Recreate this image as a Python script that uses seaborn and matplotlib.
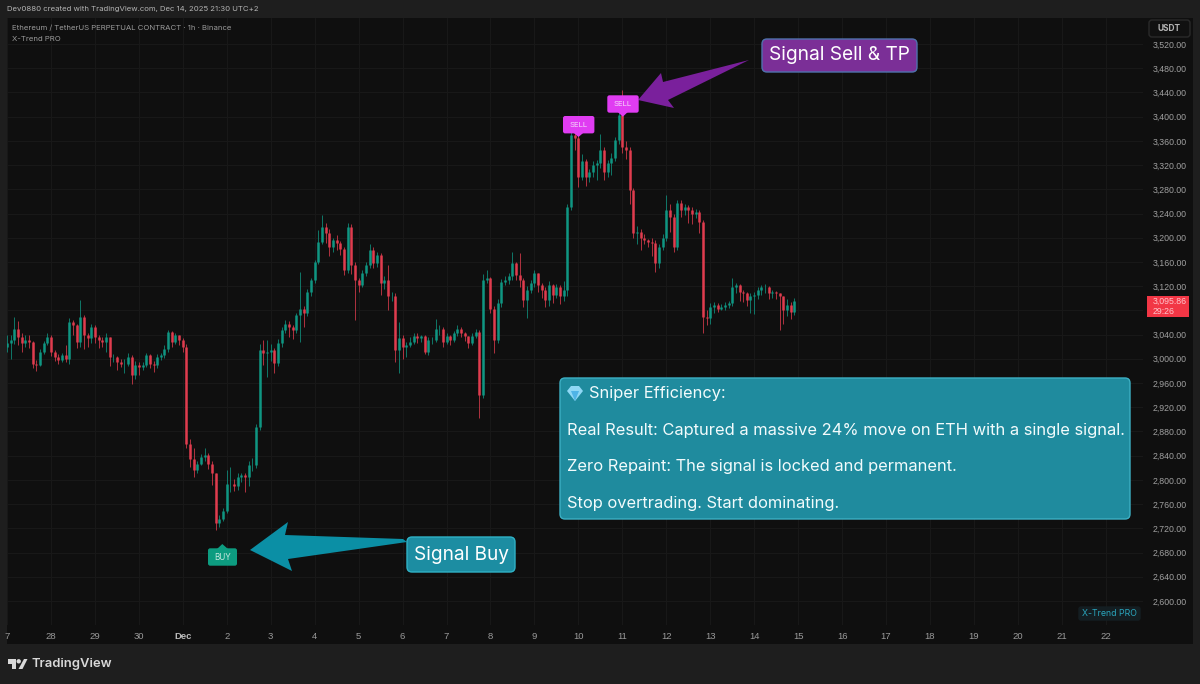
import numpy as np
import pandas as pd
import matplotlib
matplotlib.use("Agg")
import matplotlib.pyplot as plt
from matplotlib.patches import FancyBboxPatch, Polygon, Circle
import seaborn as sns

# ETHUSDT, one bar every two hours from Nov 27
closes = [
    3026, 3031, 3050, 3036, 3026, 3031, 3028, 2992, 2990, 3012, 3026, 3036,
    3012, 3003, 2998, 3006, 3000, 3061, 3056, 3028, 3069, 3039, 3034, 3053,
    3036, 3031, 3028, 3036, 3003, 3003, 2995, 2992, 2992, 3003, 2973, 2990,
    2987, 2990, 3006, 2992, 2990, 3003, 3006, 3017, 3045, 3028, 3039, 3031,
    3020, 2860, 2835, 2816, 2827, 2838, 2841, 2827, 2811, 2728, 2736, 2748,
    2794, 2794, 2790, 2805, 2808, 2805, 2825, 2825, 2888, 3015, 3009, 3012,
    3015, 2993, 3026, 3048, 3058, 3053, 3047, 3072, 3083, 3075, 3111, 3130,
    3160, 3193, 3218, 3207, 3185, 3196, 3191, 3182, 3147, 3218, 3155, 3130,
    3122, 3141, 3155, 3180, 3158, 3171, 3125, 3130, 3103, 3103, 3015, 3034,
    3020, 3023, 3028, 3037, 3034, 3037, 3012, 3031, 3031, 3050, 3050, 3028,
    3037, 3031, 3042, 3050, 3042, 3037, 3026, 3037, 3045, 2940, 3130, 3133,
    3083, 3031, 3092, 3127, 3130, 3136, 3158, 3138, 3130, 3097, 3114, 3125,
    3141, 3122, 3114, 3097, 3122, 3105, 3119, 3103, 3114, 3251, 3370, 3364,
    3301, 3326, 3301, 3309, 3320, 3323, 3345, 3309, 3323, 3331, 3361, 3403,
    3350, 3345, 3279, 3207, 3210, 3199, 3196, 3193, 3191, 3158, 3185, 3199,
    3246, 3235, 3185, 3257, 3246, 3251, 3246, 3240, 3243, 3226, 3069, 3067,
    3086, 3089, 3083, 3086, 3089, 3092, 3119, 3122, 3111, 3108, 3097, 3103,
    3105, 3114, 3119, 3119, 3108, 3111, 3108, 3103, 3081, 3089, 3078, 3096,
]
highs = [
    3040, 3040, 3069, 3062, 3042, 3040, 3040, 3030, 2998, 3016, 3030, 3042,
    3040, 3014, 3008, 3010, 3022, 3068, 3064, 3058, 3097, 3072, 3042, 3058,
    3056, 3040, 3036, 3042, 3036, 3008, 3005, 3000, 3000, 3010, 3006, 2996,
    2994, 2994, 3010, 3008, 2996, 3008, 3010, 3022, 3048, 3046, 3043, 3040,
    3034, 3024, 2868, 2852, 2832, 2842, 2852, 2845, 2832, 2812, 2742, 2754,
    2816, 2822, 2802, 2812, 2812, 2812, 2832, 2836, 2892, 3024, 3031, 3031,
    3024, 3018, 3032, 3052, 3064, 3062, 3056, 3076, 3144, 3088, 3116, 3134,
    3164, 3212, 3237, 3225, 3215, 3200, 3205, 3194, 3184, 3224, 3222, 3160,
    3134, 3146, 3160, 3190, 3184, 3176, 3175, 3136, 3155, 3110, 3108, 3060,
    3040, 3028, 3036, 3042, 3042, 3040, 3040, 3036, 3036, 3066, 3056, 3052,
    3042, 3040, 3046, 3056, 3052, 3045, 3038, 3042, 3050, 3048, 3140, 3147,
    3135, 3088, 3098, 3132, 3136, 3142, 3177, 3160, 3174, 3134, 3120, 3130,
    3146, 3142, 3126, 3118, 3128, 3124, 3124, 3122, 3128, 3256, 3382, 3383,
    3368, 3338, 3330, 3314, 3326, 3328, 3372, 3350, 3328, 3340, 3366, 3410,
    3444, 3360, 3350, 3282, 3220, 3214, 3206, 3198, 3200, 3196, 3190, 3206,
    3271, 3256, 3240, 3262, 3262, 3256, 3254, 3250, 3248, 3246, 3230, 3080,
    3092, 3094, 3092, 3090, 3094, 3096, 3133, 3126, 3124, 3114, 3110, 3108,
    3110, 3118, 3122, 3124, 3120, 3114, 3112, 3108, 3104, 3098, 3094, 3100,
]
lows = [
    3012, 3000, 3024, 3022, 3012, 3020, 3018, 2985, 2980, 2988, 3008, 3022,
    3005, 2996, 2992, 2994, 2994, 2992, 3040, 3018, 3020, 3016, 3020, 3026,
    3026, 3018, 3020, 3012, 2988, 2994, 2982, 2986, 2976, 2988, 2959, 2966,
    2974, 2982, 2986, 2984, 2978, 2984, 2998, 3002, 3012, 3020, 3024, 3022,
    3012, 2852, 2822, 2805, 2812, 2824, 2832, 2818, 2792, 2717, 2722, 2732,
    2745, 2780, 2782, 2784, 2796, 2780, 2790, 2815, 2820, 2882, 2990, 2970,
    2996, 2976, 2988, 3020, 3042, 3036, 3032, 3042, 3028, 3053, 3070, 3104,
    3126, 3156, 3190, 3192, 3170, 3176, 3180, 3172, 3138, 3142, 3140, 3064,
    3110, 3118, 3136, 3150, 3150, 3152, 3106, 3116, 3080, 3095, 2995, 2976,
    3000, 3003, 3020, 3024, 3026, 3028, 3008, 3006, 3024, 3028, 3040, 3020,
    3024, 3022, 3028, 3038, 3036, 3030, 3018, 3022, 3034, 2902, 2936, 3125,
    3076, 3009, 3026, 3086, 3122, 3124, 3130, 3130, 3118, 3086, 3067, 3108,
    3118, 3110, 3100, 3086, 3088, 3092, 3100, 3090, 3095, 3104, 3245, 3345,
    3284, 3296, 3286, 3292, 3300, 3296, 3315, 3296, 3300, 3303, 3326, 3355,
    3340, 3330, 3256, 3200, 3190, 3180, 3190, 3184, 3170, 3144, 3150, 3180,
    3194, 3210, 3176, 3180, 3234, 3238, 3225, 3222, 3232, 3208, 3042, 3056,
    3058, 3076, 3078, 3080, 3080, 3084, 3088, 3108, 3096, 3094, 3088, 3075,
    3074, 3098, 3106, 3108, 3098, 3100, 3098, 3048, 3058, 3070, 3066, 3072,
]
first_open = 3020

# x labels, one per day from Nov 27
day_labels = ["7", "28", "29", "30", "Dec", "2", "3", "4", "5", "6", "7", "8", "9", "10", "11",
              "12", "13", "14", "15", "16", "17", "18", "19", "20", "21", "22"]
price_ticks = list(range(2600, 3521, 40))
hidden_tick = 3080  # sits under the red price tag

BG = "#1e1e1e"
PANE = "#0f0f0f"
GRID = "#181818"
GREEN = "#0f9a86"
RED = "#e63e50"
FONT = "Inter"
SCALE_FONT = "Liberation Sans"

sns.set_theme(style="dark", rc={"figure.facecolor": BG, "axes.facecolor": PANE})
plt.rcParams["font.family"] = [FONT, "DejaVu Sans"]

opens = [first_open] + closes[:-1]
hours = [i * 2 for i in range(len(closes))]
kind = ["up" if c >= o else "down" for o, c in zip(opens, closes)]

candles = pd.DataFrame({"hour": hours, "open": opens, "close": closes,
                        "high": highs, "low": lows, "kind": kind, "candle": range(len(closes))})
wicks = candles.melt(id_vars=["hour", "kind", "candle"], value_vars=["low", "high"], value_name="price")
bodies = candles.melt(id_vars=["hour", "kind", "candle"], value_vars=["open", "close"], value_name="price")

fig = plt.figure(figsize=(12, 6.84), dpi=100)
fig.patch.set_facecolor(BG)

# dark pane behind chart and both axis strips
back = fig.add_axes([0, 0, 1, 1], zorder=0)
back.set_xlim(0, 1200)
back.set_ylim(684, 0)
back.axis("off")
back.add_patch(plt.Rectangle((7, 18), 1186, 626, color=PANE, lw=0))

ax = fig.add_axes([7 / 1200, 1 - 625 / 684, 1136 / 1200, 607 / 684], zorder=1)
ax.patch.set_alpha(0)
palette = {"up": GREEN, "down": RED}
sns.lineplot(data=wicks, x="hour", y="price", hue="kind", units="candle", estimator=None, sort=False,
             palette=palette, linewidth=0.7, legend=False, ax=ax, solid_capstyle="butt", alpha=0.75)
sns.lineplot(data=bodies, x="hour", y="price", hue="kind", units="candle", estimator=None, sort=False,
             palette=palette, linewidth=1.9, legend=False, ax=ax, solid_capstyle="butt", alpha=0.9)

ax.set_xlim(0, 24 * 1136 / 43.95)
ax.set_ylim(3520 - 581 / 0.6054, 3520 + 26 / 0.6054)
ax.set_xlabel("")
ax.set_ylabel("")
ax.set_xticks([d * 24 for d in range(len(day_labels))], day_labels)
ax.set_yticks(price_ticks, ["" if p == hidden_tick else f"{p:,.2f}" for p in price_ticks])
ax.yaxis.tick_right()
ax.tick_params(axis="x", length=0, pad=5, labelsize=6.8, labelcolor="#9a9a9a")
ax.tick_params(axis="y", length=0, pad=7.2, labelsize=6.3, labelcolor="#a0a0a0")
for lab in ax.get_xticklabels() + ax.get_yticklabels():
    lab.set_fontfamily(SCALE_FONT)
ax.get_xticklabels()[4].set_fontweight("bold")
ax.get_xticklabels()[4].set_color("#bcbcbc")
ax.grid(True, color=GRID, linewidth=0.8)
ax.set_axisbelow(True)
for s in ax.spines.values():
    s.set_visible(False)

# annotations live in pixel coordinates
over = fig.add_axes([0, 0, 1, 1], zorder=2)
over.set_xlim(0, 1200)
over.set_ylim(684, 0)
over.axis("off")
over.patch.set_alpha(0)


def rbox(x0, y0, x1, y1, face, edge=None, rad=4, lw=1.0):
    over.add_patch(FancyBboxPatch((x0 + rad, y0 + rad), x1 - x0 - 2 * rad, y1 - y0 - 2 * rad,
                                  boxstyle=f"round,pad={rad},rounding_size={rad}",
                                  fc=face, ec=edge or face, lw=lw, mutation_aspect=1))


# arrows
over.add_patch(Polygon([(250, 550), (288, 522), (285, 535), (403, 539), (407, 542), (288, 559), (292, 571)],
                       fc="#0b8fa5", ec="none"))
over.add_patch(Polygon([(638, 100), (661, 73), (663, 82), (749, 60), (668, 100), (674, 108)],
                       fc="#7a209c", ec="none"))

# signal labels
for x0, y0, tip in [(563.7, 116.7, 137), (608, 96, 116.7)]:
    rbox(x0, y0, x0 + 30, y0 + 16, "#e03cf2", rad=1.5)
    mid = x0 + 14.8
    over.add_patch(Polygon([(mid - 5, y0 + 16), (mid + 5, y0 + 16), (mid, tip)], fc="#e03cf2", ec="none"))
    over.text(mid, y0 + 8, "SELL", color="#f6d9fa", fontsize=5.6, ha="center", va="center")
rbox(208.7, 549, 236.3, 565, "#0d9c80", rad=1.5)
over.add_patch(Polygon([(217, 549), (228, 549), (222.3, 544)], fc="#0d9c80", ec="none"))
over.text(222.5, 557.2, "BUY", color="#c8e8e0", fontsize=5.8, ha="center", va="center")

# callout boxes
rbox(762, 39, 917, 72, "#7b2f97", "#4f72ad", rad=5)
over.text(839.5, 55, "Signal Sell & TP", color="white", fontsize=13.8, ha="center", va="center")
rbox(407, 537, 515, 572, "#1c8da2", "#2fb2c6", rad=5)
over.text(461, 554.5, "Signal Buy", color="white", fontsize=13.7, ha="center", va="center")
rbox(560, 378, 1130, 519, "#1f8b9e", "#3cb0c4", rad=5)
info_lines = [(589, 393.5, "Sniper Efficiency:"),
              (567, 430, "Real Result: Captured a massive 24% move on ETH with a single signal."),
              (567, 467, "Zero Repaint: The signal is locked and permanent."),
              (567, 503.5, "Stop overtrading. Start dominating.")]
for tx, ty, line in info_lines:
    over.text(tx, ty, line, color="#f2fbfc", fontsize=11.85, ha="left", va="center")
over.add_patch(Polygon([(567, 391), (571, 386), (579, 386), (583, 391), (575, 401)], fc="#8fd8f5", ec="none"))
over.add_patch(Polygon([(571, 391), (579, 391), (575, 401)], fc="#4fb4e6", ec="none"))

# header and legend text
over.text(7, 9.5, "Dev0880 created with TradingView.com, Dec 14, 2025 21:30 UTC+2",
          color="#b4b4b4", fontsize=5.6, ha="left", va="center")
over.text(12, 28, "Ethereum / TetherUS PERPETUAL CONTRACT · 1h · Binance",
          color="#9a9a9a", fontsize=5.6, ha="left", va="center")
over.text(12, 39, "X-Trend PRO", color="#9a9a9a", fontsize=5.6, ha="left", va="center")

# price scale items
rbox(1149, 20, 1190, 37, "#111111", "#2a2a2a", rad=3)
over.text(1169.5, 28.5, "USDT", color="#b4b4b4", fontsize=6, fontweight="bold", ha="center", va="center")
over.add_patch(plt.Rectangle((1146.7, 296), 42.6, 20.7, fc="#f23645", ec="none"))
over.text(1153, 301, "3,095.86", color="#ffc4cb", fontsize=6.3, family=SCALE_FONT, ha="left", va="center")
over.text(1153, 311, "29:26", color="#ffc4cb", fontsize=6.3, family=SCALE_FONT, ha="left", va="center")

# watermark
rbox(1079, 607, 1140, 620, "#141e22", rad=2)
over.text(1109.5, 613.5, "X-Trend PRO", color="#2aa5bd", fontsize=6.3, ha="center", va="center")

# TradingView logo
logo = "#d8d8d8"
over.add_patch(Polygon([(8, 659), (16, 659), (16, 669), (12, 669), (12, 663.5), (8, 663.5)], fc=logo, ec="none"))
over.add_patch(Circle((18.7, 661.3), 2.2, fc=logo, ec="none"))
over.add_patch(Polygon([(24, 659), (27.5, 659), (22.5, 669), (18.5, 669)], fc=logo, ec="none"))
over.text(32, 664.5, "TradingView", color=logo, fontsize=9.4, fontweight="semibold", ha="left", va="center")

fig.savefig("out.png", dpi=100, facecolor=BG)
